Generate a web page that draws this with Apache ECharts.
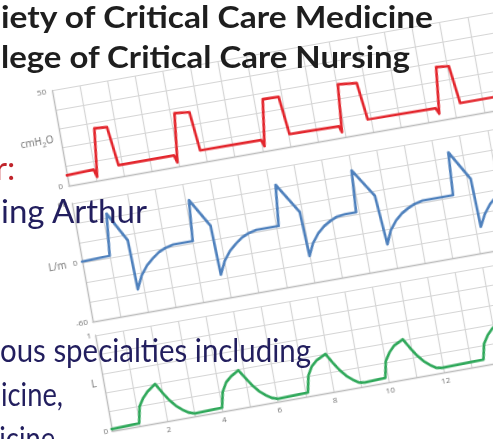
<!DOCTYPE html>
<html>
<head>
<meta charset="utf-8">
<script src="https://cdn.jsdelivr.net/npm/echarts@6/dist/echarts.min.js"></script>
<style>
html,body{margin:0;padding:0;background:#fff;overflow:hidden;width:493px;height:439px;}
#wrap{position:relative;width:493px;height:439px;overflow:hidden;background:#fff;}
/* the waveform picture sits tilted on the slide */
#waves{position:absolute;left:52px;top:31px;width:580px;height:420px;transform-origin:60px 400px;transform:rotate(-10deg);filter:blur(0.35px);}
#txt{position:absolute;left:0;top:0;width:493px;height:439px;}
.ln{position:absolute;left:0;top:0;white-space:nowrap;font-family:Lato,"Open Sans",sans-serif;line-height:1.2;transform-origin:0 0;}
</style>
</head>
<body>
<div id="wrap">
  <div id="waves"></div>
  <div id="txt"></div>
</div>
<script>
// waveform values, x = time (s)
var pressure = [
  [0,5.5],[0.97,6],[1.05,2],[1.25,27],[1.7,26.5],[1.87,6],
  [3.87,6],[3.95,2.2],[4.15,27.5],[4.68,26.7],[4.82,6.3],
  [7.02,6],[7.1,2.6],[7.33,26.8],[7.9,26.5],[8.05,6.5],
  [9.83,6],[9.9,2.8],[10.05,27.5],[10.72,26.5],[10.88,7],
  [13.33,6.5],[13.42,3.5],[13.6,27.5],[14.05,26.8],[14.22,7],[17,7]
];
var flow = [
  [0,1],[1.0,2],[1.15,44],[1.73,14],[1.78,-36],[2.0,-23],[2.25,-14],[2.5,-8],[2.75,-3],[3.0,0],[3.3,2],
  [4.0,2],[4.12,43],[4.72,14],[4.78,-36],[5.0,-23],[5.25,-14],[5.5,-8],[5.75,-3],[6.0,0],[6.3,2],
  [7.1,2],[7.25,43],[7.93,12],[8.0,-33],[8.2,-21],[8.45,-12],[8.7,-6],[8.95,-2],[9.2,1],[9.5,2],
  [9.9,2],[10.0,44],[10.66,15],[10.8,-35],[11.0,-22],[11.25,-13],[11.5,-7],[11.75,-3],[12.0,0],[12.3,2],
  [13.4,2],[13.5,45],[14.12,15],[14.18,-34],[14.4,-22],[14.65,-13],[14.9,-7],[15.15,-3],[15.4,0],[15.7,2],[17,2]
];
var volume = [
  [0,0.02],[1.0,0.03],[1.12,0.2],[1.3,0.28],[1.5,0.34],[1.8,0.4],[2.0,0.3],[2.2,0.21],[2.4,0.14],[2.6,0.09],[2.8,0.05],[3.0,0.03],
  [4.0,0.04],[4.12,0.2],[4.3,0.29],[4.5,0.34],[4.8,0.39],[5.0,0.3],[5.2,0.21],[5.4,0.14],[5.6,0.09],[5.8,0.05],[6.0,0.03],
  [7.1,0.04],[7.22,0.21],[7.4,0.3],[7.6,0.35],[7.95,0.4],[8.15,0.3],[8.35,0.21],[8.55,0.14],[8.75,0.09],[8.95,0.05],[9.15,0.04],
  [9.9,0.05],[10.02,0.22],[10.2,0.3],[10.4,0.36],[10.75,0.41],[10.95,0.31],[11.15,0.22],[11.35,0.15],[11.55,0.1],[11.75,0.06],[11.95,0.05],
  [13.45,0.06],[13.57,0.22],[13.75,0.3],[13.95,0.36],[14.25,0.41],[14.45,0.31],[14.65,0.22],[14.85,0.15],[15.05,0.1],[15.25,0.06],[15.45,0.05],[17,0.06]
];
var xLabels = [2,4,6,8,10,12,14,16];
var pressureTicks = [0,50];
var flowTicks = [-60,0,60];
var volumeTicks = [0,1];
var unitNames = ['{a|cmH}{s|2}{a|O}', 'L/m', 'L'];

// slide text around the picture
var slideLines = [
  {text:'iety of Critical Care Medicine', x0:1, x1:433, base:28, size:31, bold:true, color:'#1e1e1e'},
  {text:'lege of Critical Care Nursing', x0:1, x1:410, base:68, size:31, bold:true, color:'#1e1e1e'},
  {text:'ing Arthur', x0:1, x1:147, base:223, size:33, color:'#221e5e'},
  {text:'r:', right:15, base:180, size:33, color:'#c0242b'},
  {text:'ous specialties including', x0:0, x1:311, base:362, size:33, color:'#221e5e'},
  {text:'icine,', x0:1, x1:63, base:406, size:33, color:'#221e5e'},
  {text:'dicine', right:55, base:450, size:33, color:'#221e5e'}
];

var GRID = '#d5d5d5', AXIS = '#bcbcbc', LBL = '#707070';

function pick(list){
  return function(v){
    for (var i = 0; i < list.length; i++){
      if (Math.abs(v - list[i]) < 1e-9) return String(list[i]);
    }
    return '';
  };
}

function xAx(gi, showLbl){
  return {
    type:'value', gridIndex:gi, min:0, max:17, interval:1,
    axisLine:{show:true, onZero:false, lineStyle:{color:AXIS, width:1.3}},
    axisTick:{show:false},
    splitLine:{show:true, lineStyle:{color:GRID, width:1.2}},
    axisLabel:{show:showLbl, fontSize:8, color:LBL, margin:5, fontFamily:'Open Sans', formatter:pick(xLabels)}
  };
}

function yAx(gi, mn, mx, step, ticks, margin){
  return {
    type:'value', gridIndex:gi, min:mn, max:mx, interval:step,
    axisLine:{show:true, onZero:false, lineStyle:{color:AXIS, width:1.3}},
    axisTick:{show:false},
    splitLine:{show:true, lineStyle:{color:GRID, width:1.2}},
    axisLabel:{fontSize:8, color:LBL, margin:margin, fontFamily:'Open Sans', hideOverlap:false, formatter:pick(ticks)}
  };
}

function wave(gi, data, color){
  return {
    type:'line', xAxisIndex:gi, yAxisIndex:gi, data:data,
    showSymbol:false, smooth:false, animation:false,
    lineStyle:{color:color, width:2.7, cap:'round', join:'round'}
  };
}

function unitText(txt, x, y){
  return {
    type:'text', x:x, y:y, silent:true,
    style:{
      text:txt, align:'right', verticalAlign:'middle', fill:LBL,
      fontSize:10, fontFamily:'Open Sans',
      rich:{
        a:{fontSize:10, fill:LBL, fontFamily:'Open Sans'},
        s:{fontSize:7, fill:LBL, fontFamily:'Open Sans', padding:[7,0,0,0]}
      }
    }
  };
}

var chart = echarts.init(document.getElementById('waves'), null, {renderer:'canvas'});
chart.setOption({
  animation:false,
  backgroundColor:'transparent',
  grid:[
    {left:60, top:54.5, width:478, height:96.5},
    {left:60, top:169, width:478, height:120},
    {left:60, top:303, width:478, height:97}
  ],
  xAxis:[xAx(0,false), xAx(1,false), xAx(2,true)],
  yAxis:[
    yAx(0, 0, 50, 10, pressureTicks, 6),
    yAx(1, -60, 60, 20, flowTicks, 5),
    yAx(2, 0, 1, 0.2, volumeTicks, 4)
  ],
  graphic:[
    unitText(unitNames[0], 53, 103),
    unitText(unitNames[1], 44, 229),
    unitText(unitNames[2], 53, 351)
  ],
  series:[
    wave(0, pressure, '#e3262d'),
    wave(1, flow, '#4f81bd'),
    wave(2, volume, '#2fa85a')
  ]
});

// place slide text on its baselines and stretch to the widths seen
function layoutText(){
  var box = document.getElementById('txt');
  box.innerHTML = '';
  var kRef = 1;
  slideLines.forEach(function(s){
    var d = document.createElement('div');
    d.className = 'ln';
    d.style.fontSize = s.size + 'px';
    d.style.fontWeight = s.bold ? '700' : '400';
    d.style.color = s.color;
    var sp = document.createElement('span');
    sp.textContent = s.text;
    var mk = document.createElement('i');
    mk.style.cssText = 'display:inline-block;width:0;height:0;';
    d.appendChild(sp);
    d.appendChild(mk);
    box.appendChild(d);
    var w = sp.getBoundingClientRect().width;
    var k, left;
    if (s.right !== undefined){
      k = kRef;
      left = s.right - w * k;
    } else {
      k = (s.x1 - s.x0) / w;
      left = s.x0;
      if (!s.bold) kRef = k;
    }
    d.style.left = left + 'px';
    d.style.top = (s.base - mk.offsetTop) + 'px';
    d.style.transform = 'scaleX(' + k + ')';
  });
}
layoutText();
if (document.fonts && document.fonts.ready) document.fonts.ready.then(layoutText);
</script>
</body>
</html>
